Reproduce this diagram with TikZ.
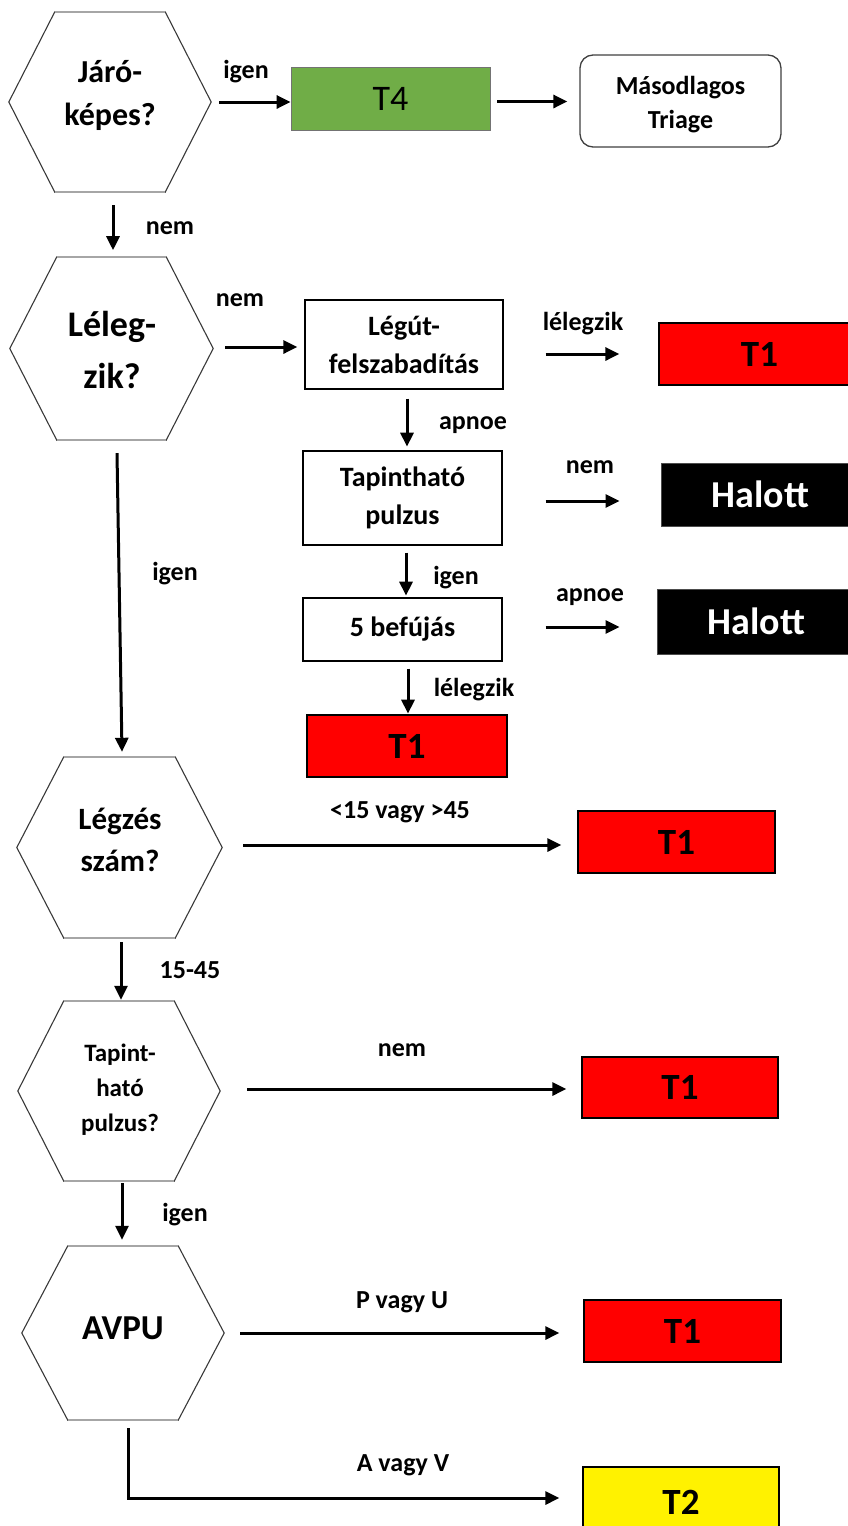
\documentclass[tikz,border=0pt]{standalone}
\usepackage{fontspec}
\setmainfont{Carlito}
\usetikzlibrary{arrows.meta,calc}

\definecolor{tgreen}{HTML}{70AD47}

% hexagonal decision frame around an empty node: #1 node name, #2 inset of the flat edges
\newcommand\hexframe[2]{%
  \draw[hexline] (#1.west) -- ($(#1.north west)+(#2,0)$) -- ($(#1.north east)-(#2,0)$)
    -- (#1.east) -- ($(#1.south east)-(#2,0)$) -- ($(#1.south west)+(#2,0)$) -- cycle;
  \draw[hexcap] ($(#1.north west)+(#2,0)$) -- ($(#1.north east)-(#2,0)$);
  \draw[hexcap] ($(#1.south west)+(#2,0)$) -- ($(#1.south east)-(#2,0)$);
}

\tikzset{
  hexnode/.style={inner sep=0pt, draw=none},
  hexline/.style={draw=gray!45!black, line width=1.1pt, line join=miter},
  hexcap/.style={draw=gray!70, line width=2.4pt},
  hextext/.style={align=center, inner sep=0pt, font=\bfseries},
  stepbox/.style={draw=black, line width=1.3pt, fill=white, align=center, inner sep=0pt,
    font=\fontsize{28}{38}\selectfont\bfseries},
  redbox/.style={draw=black, line width=1.3pt, fill=red, inner sep=0pt,
    font=\fontsize{37}{40}\selectfont\bfseries},
  deadbox/.style={draw=gray!60!black, line width=1pt, fill=black, text=white, inner sep=0pt,
    font=\fontsize{38}{40}\selectfont\bfseries},
  arr/.style={line width=3pt, -{Triangle[length=14pt,width=13pt]}},
  lbl/.style={inner sep=0pt, font=\fontsize{26}{28}\selectfont\bfseries}
}

\begin{document}
\begin{tikzpicture}[x=1pt,y=-1pt]
\useasboundingbox (0,0) rectangle (848,1526);

% ---------- decision hexagons ----------
\node[hexnode, minimum width=202pt, minimum height=180pt] (hexJ) at (110,102) {};
\node[hexnode, minimum width=203pt, minimum height=183pt] (hexL) at (111.5,348.5) {};
\node[hexnode, minimum width=205pt, minimum height=181pt] (hexG) at (119.5,847.5) {};
\node[hexnode, minimum width=202pt, minimum height=180pt] (hexT) at (119,1091) {};
\node[hexnode, minimum width=202pt, minimum height=174pt] (hexA) at (123,1333) {};
\hexframe{hexJ}{46}
\hexframe{hexL}{47}
\hexframe{hexG}{47}
\hexframe{hexT}{46}
\hexframe{hexA}{46}

\node[hextext, font=\fontsize{32}{43}\selectfont\bfseries] (txtJ) at (110,95) {Járó-\\képes?};
\node[hextext, font=\fontsize{36}{52}\selectfont\bfseries] (txtL) at (112,350) {Léleg-\\zik?};
\node[hextext, font=\fontsize{31}{42}\selectfont\bfseries] (txtG) at (120,840) {Légzés\\szám?};
\node[hextext, font=\fontsize{25}{35}\selectfont\bfseries] (txtT) at (120,1090) {Tapint-\\ható\\pulzus?};
\node[hextext, font=\fontsize{35}{40}\selectfont\bfseries] (txtA) at (123,1328) {AVPU};

% ---------- top row ----------
\node[draw=black!55, line width=0.8pt, fill=tgreen,
  minimum width=199pt, minimum height=63pt, inner sep=0pt,
  font=\fontsize{36}{40}\selectfont] (t4) at (390.5,98.5) {\raisebox{-3pt}{T4}};
\node[draw=black!75, line width=1.3pt, fill=white, rounded corners=13pt,
  minimum width=201pt, minimum height=92pt, inner sep=0pt] (sec) at (680.5,101) {};
\node[align=center, inner sep=0pt, font=\fontsize{26}{34}\selectfont\bfseries]
  (secTxt) at (680.5,105) {Másodlagos\\Triage};

% ---------- airway branch ----------
\node[stepbox, minimum width=198pt, minimum height=89pt] (air) at (404,344.5) {Légút-\\felszabadítás};
\node[stepbox, minimum width=199pt, minimum height=94pt] (pulse) at (402.5,498) {Tapintható\\pulzus};
\node[stepbox, minimum width=199pt, minimum height=63pt] (blow) at (402.5,629.5) {5 befújás};

\node[redbox, minimum width=201pt, minimum height=62pt] (redA) at (759.5,354) {T1};
\node[deadbox, minimum width=199pt, minimum height=63pt] (deadA) at (760.5,494.5) {Halott};
\node[deadbox, minimum width=199pt, minimum height=65pt] (deadB) at (756.5,621.5) {Halott};
\node[redbox, minimum width=200pt, minimum height=62pt] (redB) at (407,746) {T1};

% ---------- right-hand outcomes ----------
\node[redbox, minimum width=197pt, minimum height=62pt] (redC) at (676.5,842) {T1};
\node[redbox, minimum width=196pt, minimum height=61pt] (redD) at (680,1087.5) {T1};
\node[redbox, minimum width=197pt, minimum height=62pt] (redE) at (682.5,1331) {T1};
\node[draw=black, line width=1.3pt, fill=yellow, minimum width=196pt, minimum height=70pt,
  inner sep=0pt, font=\fontsize{37}{40}\selectfont\bfseries] (yel) at (681,1502) {T2};

% ---------- connectors ----------
\draw[arr] ($(hexJ.east)+(8,0)$) -- (hexJ.east -| t4.west);
\node[lbl] (lJ1) at (246,72) {igen};
\draw[arr] ($(t4.east)+(7,3)$) -- ($(t4.east -| sec.west)+(-12,3)$);

\draw[arr] ($(hexJ.south)+(3,13)$) -- ($(hexJ.south)+(3,58)$);
\node[lbl] (lJ2) at (170,228) {nem};

\draw[arr] ($(hexL.east)+(12,-1.5)$) -- ($(hexL.east -| air.west)+(-7,-1.5)$);
\node[lbl] (lL1) at (240,300) {nem};

\draw[arr] ($(air.east)+(42,9.5)$) -- ($(air.east -| redA.west)+(-39,9.5)$);
\node[lbl] (lA1) at (583,324) {lélegzik};
\draw[arr] ($(air.south)+(3,9)$) -- ($(air.south)+(3,57)$);
\node[lbl] (lA2) at (473,425) {apnoe};

\draw[arr] ($(pulse.east)+(43,3)$) -- ($(pulse.east -| deadA.west)+(-41,3)$);
\node[lbl] (lP1) at (590,467) {nem};
\draw[arr] ($(pulse.south)+(3.5,7)$) -- ($(pulse.south)+(3.5,50)$);
\node[lbl] (lP2) at (456,578) {igen};

\draw[arr] ($(blow.east)+(43,-2.5)$) -- ($(blow.east -| deadB.west)+(-37,-2.5)$);
\node[lbl] (lB1) at (590,597) {apnoe};
\draw[arr] ($(blow.south)+(5.5,7)$) -- ($(blow.south)+(5.5,52)$);
\node[lbl] (lB2) at (474,690) {lélegzik};

\draw[arr] ($(hexL.south)+(5.5,13)$) -- ($(hexG.north)+(2.5,-5)$);
\node[lbl] (lL2) at (175,574) {igen};

\draw[arr] ($(hexG.east)+(21,-2.5)$) -- ($(hexG.east -| redC.west)+(-16,-2.5)$);
\node[lbl] (lG1) at (400,812) {<15 vagy >45};
\draw[arr] ($(hexG.south)+(1.5,4)$) -- ($(hexT.north)+(2,-1)$);
\node[lbl] (lG2) at (190,970) {15-45};

\draw[arr] ($(hexT.east)+(27,-2)$) -- ($(hexT.east -| redD.west)+(-15,-2)$);
\node[lbl] (lT1) at (402,1050) {nem};
\draw[arr] ($(hexT.south)+(3,2)$) -- ($(hexA.north)+(-1,-6)$);
\node[lbl] (lT2) at (185,1215) {igen};

\draw[arr] ($(hexA.east)+(16,0)$) -- ($(hexA.east -| redE.west)+(-24,0)$);
\node[lbl] (lA3) at (402,1302) {P vagy U};
\draw[arr] ($(hexA.south)+(5,8)$) |- ($(yel.west)+(-23,-4)$);
\node[lbl] (lA4) at (403,1465) {A vagy V};

\end{tikzpicture}
\end{document}
